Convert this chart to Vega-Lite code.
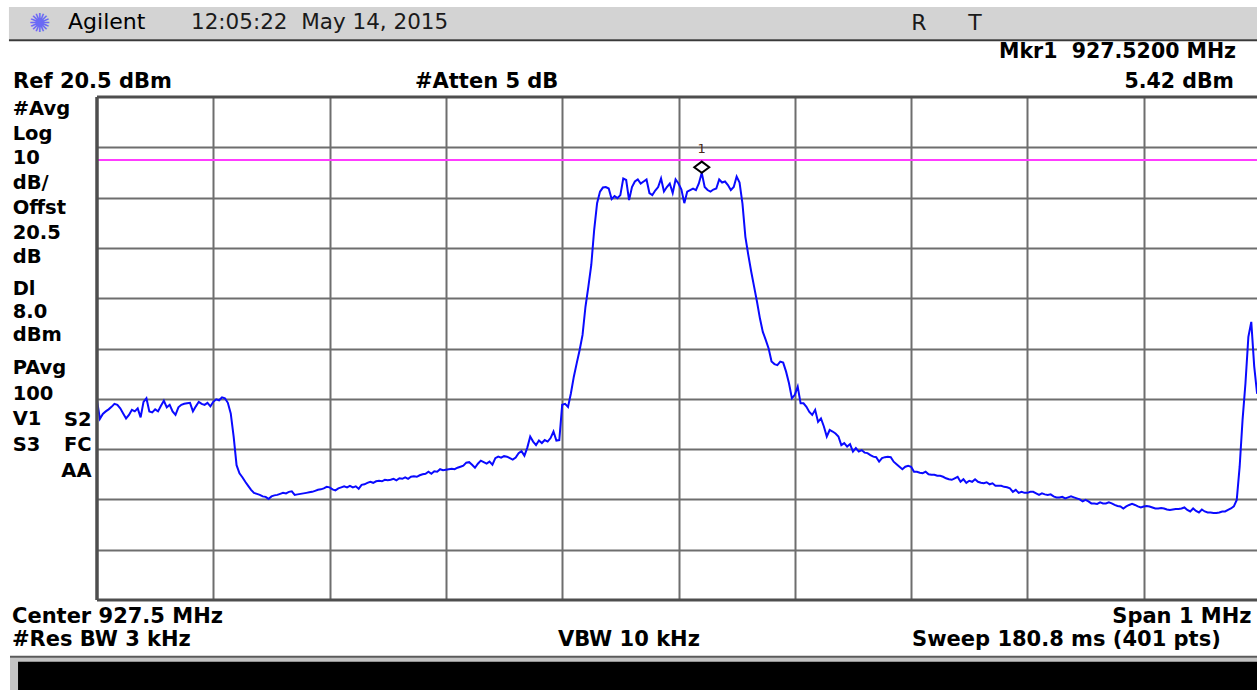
{
  "$schema": "https://vega.github.io/schema/vega-lite/v6.json",
  "width": 1160,
  "height": 503,
  "autosize": {"type": "none"},
  "padding": {"left": 97, "top": 97, "right": 0, "bottom": 90},
  "background": "#ffffff",
  "config": {"view": {"stroke": null}},
  "data": {"values": [{}]},
  "datasets": {
    "marker": [{"name": "Mkr1", "f": 927.52, "dbm": 5.42}],
    "trace": [
      {"f":927.0,"dbm":-39.8},{"f":927.0025,"dbm":-43.5},{"f":927.005,"dbm":-42.5},{"f":927.0075,"dbm":-42.0},
      {"f":927.01,"dbm":-41.6},{"f":927.0125,"dbm":-41.1},{"f":927.015,"dbm":-40.5},{"f":927.0175,"dbm":-40.7},
      {"f":927.02,"dbm":-41.4},{"f":927.0225,"dbm":-42.4},{"f":927.025,"dbm":-43.4},{"f":927.0275,"dbm":-42.7},
      {"f":927.03,"dbm":-41.7},{"f":927.0325,"dbm":-42.0},{"f":927.035,"dbm":-41.4},{"f":927.0375,"dbm":-43.2},
      {"f":927.04,"dbm":-40.1},{"f":927.0425,"dbm":-39.4},{"f":927.045,"dbm":-42.0},{"f":927.0475,"dbm":-42.2},
      {"f":927.05,"dbm":-41.6},{"f":927.0525,"dbm":-42.0},{"f":927.055,"dbm":-40.9},{"f":927.0575,"dbm":-39.9},
      {"f":927.06,"dbm":-41.2},{"f":927.0625,"dbm":-40.7},{"f":927.065,"dbm":-42.0},{"f":927.0675,"dbm":-42.7},
      {"f":927.07,"dbm":-41.2},{"f":927.0725,"dbm":-40.7},{"f":927.075,"dbm":-40.5},{"f":927.0775,"dbm":-40.4},
      {"f":927.08,"dbm":-40.3},{"f":927.0825,"dbm":-42.0},{"f":927.085,"dbm":-41.0},{"f":927.0875,"dbm":-40.1},
      {"f":927.09,"dbm":-40.5},{"f":927.0925,"dbm":-40.7},{"f":927.095,"dbm":-40.3},{"f":927.0975,"dbm":-41.0},
      {"f":927.1,"dbm":-40.1},{"f":927.1025,"dbm":-39.6},{"f":927.105,"dbm":-39.8},{"f":927.1075,"dbm":-39.2},
      {"f":927.11,"dbm":-39.4},{"f":927.1125,"dbm":-40.3},{"f":927.115,"dbm":-42.4},{"f":927.1175,"dbm":-47.0},
      {"f":927.12,"dbm":-52.7},{"f":927.1225,"dbm":-54.3},{"f":927.125,"dbm":-55.1},{"f":927.1275,"dbm":-56.0},
      {"f":927.13,"dbm":-56.8},{"f":927.1325,"dbm":-57.6},{"f":927.135,"dbm":-58.2},{"f":927.1375,"dbm":-58.4},
      {"f":927.14,"dbm":-58.6},{"f":927.1425,"dbm":-58.9},{"f":927.145,"dbm":-59.0},{"f":927.1475,"dbm":-59.4},
      {"f":927.15,"dbm":-58.9},{"f":927.1525,"dbm":-58.7},{"f":927.155,"dbm":-58.6},{"f":927.1575,"dbm":-58.4},
      {"f":927.16,"dbm":-58.2},{"f":927.1625,"dbm":-58.3},{"f":927.165,"dbm":-58.0},{"f":927.1675,"dbm":-57.9},
      {"f":927.17,"dbm":-58.6},{"f":927.1725,"dbm":-58.5},{"f":927.175,"dbm":-58.4},{"f":927.1775,"dbm":-58.3},
      {"f":927.18,"dbm":-58.2},{"f":927.1825,"dbm":-58.1},{"f":927.185,"dbm":-58.0},{"f":927.1875,"dbm":-57.8},
      {"f":927.19,"dbm":-57.6},{"f":927.1925,"dbm":-57.5},{"f":927.195,"dbm":-57.3},{"f":927.1975,"dbm":-57.0},
      {"f":927.2,"dbm":-57.1},{"f":927.2025,"dbm":-57.5},{"f":927.205,"dbm":-57.7},{"f":927.2075,"dbm":-57.3},
      {"f":927.21,"dbm":-57.1},{"f":927.2125,"dbm":-56.9},{"f":927.215,"dbm":-57.1},{"f":927.2175,"dbm":-56.8},
      {"f":927.22,"dbm":-57.1},{"f":927.2225,"dbm":-56.9},{"f":927.225,"dbm":-57.4},{"f":927.2275,"dbm":-56.6},
      {"f":927.23,"dbm":-56.5},{"f":927.2325,"dbm":-56.2},{"f":927.235,"dbm":-56.0},{"f":927.2375,"dbm":-56.2},
      {"f":927.24,"dbm":-55.9},{"f":927.2425,"dbm":-55.8},{"f":927.245,"dbm":-55.9},{"f":927.2475,"dbm":-55.6},
      {"f":927.25,"dbm":-55.7},{"f":927.2525,"dbm":-55.6},{"f":927.255,"dbm":-55.4},{"f":927.2575,"dbm":-55.7},
      {"f":927.26,"dbm":-55.3},{"f":927.2625,"dbm":-55.4},{"f":927.265,"dbm":-55.1},{"f":927.2675,"dbm":-55.4},
      {"f":927.27,"dbm":-55.0},{"f":927.2725,"dbm":-54.9},{"f":927.275,"dbm":-55.0},{"f":927.2775,"dbm":-54.7},
      {"f":927.28,"dbm":-54.5},{"f":927.2825,"dbm":-54.4},{"f":927.285,"dbm":-54.0},{"f":927.2875,"dbm":-54.4},
      {"f":927.29,"dbm":-53.9},{"f":927.2925,"dbm":-54.0},{"f":927.295,"dbm":-53.5},{"f":927.2975,"dbm":-53.7},
      {"f":927.3,"dbm":-53.6},{"f":927.3025,"dbm":-53.5},{"f":927.305,"dbm":-53.4},{"f":927.3075,"dbm":-53.5},
      {"f":927.31,"dbm":-53.2},{"f":927.3125,"dbm":-53.0},{"f":927.315,"dbm":-52.8},{"f":927.3175,"dbm":-52.2},
      {"f":927.32,"dbm":-52.1},{"f":927.3225,"dbm":-52.6},{"f":927.325,"dbm":-53.2},{"f":927.3275,"dbm":-52.4},
      {"f":927.33,"dbm":-51.8},{"f":927.3325,"dbm":-52.1},{"f":927.335,"dbm":-52.4},{"f":927.3375,"dbm":-52.0},
      {"f":927.34,"dbm":-52.6},{"f":927.3425,"dbm":-51.3},{"f":927.345,"dbm":-51.0},{"f":927.3475,"dbm":-51.2},
      {"f":927.35,"dbm":-50.9},{"f":927.3525,"dbm":-51.0},{"f":927.355,"dbm":-51.3},{"f":927.3575,"dbm":-51.6},
      {"f":927.36,"dbm":-51.2},{"f":927.3625,"dbm":-50.3},{"f":927.365,"dbm":-49.9},{"f":927.3675,"dbm":-50.8},
      {"f":927.37,"dbm":-49.2},{"f":927.3725,"dbm":-47.0},{"f":927.375,"dbm":-48.0},{"f":927.3775,"dbm":-48.7},
      {"f":927.38,"dbm":-47.8},{"f":927.3825,"dbm":-48.3},{"f":927.385,"dbm":-47.7},{"f":927.3875,"dbm":-48.0},
      {"f":927.39,"dbm":-47.3},{"f":927.3925,"dbm":-46.0},{"f":927.395,"dbm":-47.8},{"f":927.3975,"dbm":-47.7},
      {"f":927.4,"dbm":-40.7},{"f":927.4025,"dbm":-40.5},{"f":927.405,"dbm":-41.1},{"f":927.4075,"dbm":-38.4},
      {"f":927.41,"dbm":-35.1},{"f":927.4125,"dbm":-32.4},{"f":927.415,"dbm":-29.8},{"f":927.4175,"dbm":-26.8},
      {"f":927.42,"dbm":-21.2},{"f":927.4225,"dbm":-17.2},{"f":927.425,"dbm":-12.9},{"f":927.4275,"dbm":-5.9},
      {"f":927.43,"dbm":-0.6},{"f":927.4325,"dbm":1.7},{"f":927.435,"dbm":2.5},{"f":927.4375,"dbm":2.6},
      {"f":927.44,"dbm":2.3},{"f":927.4425,"dbm":0.2},{"f":927.445,"dbm":0.8},{"f":927.4475,"dbm":0.4},
      {"f":927.45,"dbm":1.0},{"f":927.4525,"dbm":4.3},{"f":927.455,"dbm":4.0},{"f":927.4575,"dbm":0.0},
      {"f":927.46,"dbm":2.6},{"f":927.4625,"dbm":3.7},{"f":927.465,"dbm":4.1},{"f":927.4675,"dbm":3.3},
      {"f":927.47,"dbm":3.7},{"f":927.4725,"dbm":4.1},{"f":927.475,"dbm":1.4},{"f":927.4775,"dbm":1.0},
      {"f":927.48,"dbm":1.9},{"f":927.4825,"dbm":2.6},{"f":927.485,"dbm":4.3},{"f":927.4875,"dbm":1.7},
      {"f":927.49,"dbm":2.6},{"f":927.4925,"dbm":3.3},{"f":927.495,"dbm":1.4},{"f":927.4975,"dbm":4.1},
      {"f":927.5,"dbm":3.3},{"f":927.5025,"dbm":2.1},{"f":927.505,"dbm":-0.6},{"f":927.5075,"dbm":1.7},
      {"f":927.51,"dbm":2.0},{"f":927.5125,"dbm":2.3},{"f":927.515,"dbm":2.0},{"f":927.5175,"dbm":3.3},
      {"f":927.52,"dbm":5.42},{"f":927.5225,"dbm":2.6},{"f":927.525,"dbm":2.0},{"f":927.5275,"dbm":1.7},
      {"f":927.53,"dbm":2.1},{"f":927.5325,"dbm":2.3},{"f":927.535,"dbm":4.1},{"f":927.5375,"dbm":3.5},
      {"f":927.54,"dbm":3.7},{"f":927.5425,"dbm":3.0},{"f":927.545,"dbm":2.0},{"f":927.5475,"dbm":2.6},
      {"f":927.55,"dbm":4.7},{"f":927.5525,"dbm":3.5},{"f":927.555,"dbm":-0.7},{"f":927.5575,"dbm":-7.3},
      {"f":927.56,"dbm":-10.9},{"f":927.5625,"dbm":-14.2},{"f":927.565,"dbm":-17.2},{"f":927.5675,"dbm":-20.2},
      {"f":927.57,"dbm":-23.5},{"f":927.5725,"dbm":-26.2},{"f":927.575,"dbm":-27.8},{"f":927.5775,"dbm":-29.5},
      {"f":927.58,"dbm":-32.1},{"f":927.5825,"dbm":-32.6},{"f":927.585,"dbm":-32.8},{"f":927.5875,"dbm":-32.1},
      {"f":927.59,"dbm":-32.3},{"f":927.5925,"dbm":-34.1},{"f":927.595,"dbm":-36.4},{"f":927.5975,"dbm":-39.4},
      {"f":927.6,"dbm":-38.7},{"f":927.6025,"dbm":-37.1},{"f":927.605,"dbm":-40.4},{"f":927.6075,"dbm":-40.4},
      {"f":927.61,"dbm":-41.1},{"f":927.6125,"dbm":-42.1},{"f":927.615,"dbm":-42.7},{"f":927.6175,"dbm":-41.7},
      {"f":927.62,"dbm":-44.1},{"f":927.6225,"dbm":-43.4},{"f":927.625,"dbm":-45.0},{"f":927.6275,"dbm":-47.0},
      {"f":927.63,"dbm":-45.7},{"f":927.6325,"dbm":-46.0},{"f":927.635,"dbm":-46.4},{"f":927.6375,"dbm":-47.0},
      {"f":927.64,"dbm":-48.7},{"f":927.6425,"dbm":-48.3},{"f":927.645,"dbm":-49.0},{"f":927.6475,"dbm":-48.5},
      {"f":927.65,"dbm":-50.0},{"f":927.6525,"dbm":-49.3},{"f":927.655,"dbm":-50.0},{"f":927.6575,"dbm":-49.7},
      {"f":927.66,"dbm":-50.2},{"f":927.6625,"dbm":-50.3},{"f":927.665,"dbm":-50.7},{"f":927.6675,"dbm":-51.0},
      {"f":927.67,"dbm":-51.1},{"f":927.6725,"dbm":-52.0},{"f":927.675,"dbm":-51.3},{"f":927.6775,"dbm":-51.1},
      {"f":927.68,"dbm":-51.0},{"f":927.6825,"dbm":-51.1},{"f":927.685,"dbm":-52.0},{"f":927.6875,"dbm":-52.5},
      {"f":927.69,"dbm":-53.0},{"f":927.6925,"dbm":-53.5},{"f":927.695,"dbm":-53.0},{"f":927.6975,"dbm":-52.8},
      {"f":927.7,"dbm":-53.0},{"f":927.7025,"dbm":-54.0},{"f":927.705,"dbm":-54.0},{"f":927.7075,"dbm":-54.2},
      {"f":927.71,"dbm":-54.3},{"f":927.7125,"dbm":-54.0},{"f":927.715,"dbm":-54.5},{"f":927.7175,"dbm":-54.6},
      {"f":927.72,"dbm":-54.6},{"f":927.7225,"dbm":-54.8},{"f":927.725,"dbm":-54.8},{"f":927.7275,"dbm":-55.0},
      {"f":927.73,"dbm":-55.3},{"f":927.7325,"dbm":-55.5},{"f":927.735,"dbm":-55.6},{"f":927.7375,"dbm":-55.3},
      {"f":927.74,"dbm":-55.0},{"f":927.7425,"dbm":-56.0},{"f":927.745,"dbm":-55.5},{"f":927.7475,"dbm":-56.2},
      {"f":927.75,"dbm":-55.8},{"f":927.7525,"dbm":-56.0},{"f":927.755,"dbm":-55.5},{"f":927.7575,"dbm":-56.0},
      {"f":927.76,"dbm":-56.2},{"f":927.7625,"dbm":-56.3},{"f":927.765,"dbm":-56.1},{"f":927.7675,"dbm":-56.5},
      {"f":927.77,"dbm":-56.3},{"f":927.7725,"dbm":-56.8},{"f":927.775,"dbm":-56.8},{"f":927.7775,"dbm":-56.8},
      {"f":927.78,"dbm":-57.0},{"f":927.7825,"dbm":-57.1},{"f":927.785,"dbm":-57.3},{"f":927.7875,"dbm":-58.0},
      {"f":927.79,"dbm":-57.6},{"f":927.7925,"dbm":-58.2},{"f":927.795,"dbm":-58.0},{"f":927.7975,"dbm":-58.2},
      {"f":927.8,"dbm":-58.2},{"f":927.8025,"dbm":-58.0},{"f":927.805,"dbm":-58.0},{"f":927.8075,"dbm":-58.3},
      {"f":927.81,"dbm":-58.6},{"f":927.8125,"dbm":-58.3},{"f":927.815,"dbm":-58.5},{"f":927.8175,"dbm":-58.6},
      {"f":927.82,"dbm":-58.5},{"f":927.8225,"dbm":-58.9},{"f":927.825,"dbm":-59.1},{"f":927.8275,"dbm":-59.1},
      {"f":927.83,"dbm":-59.0},{"f":927.8325,"dbm":-59.3},{"f":927.835,"dbm":-59.1},{"f":927.8375,"dbm":-58.9},
      {"f":927.84,"dbm":-59.1},{"f":927.8425,"dbm":-59.3},{"f":927.845,"dbm":-59.5},{"f":927.8475,"dbm":-59.9},
      {"f":927.85,"dbm":-59.6},{"f":927.8525,"dbm":-59.9},{"f":927.855,"dbm":-60.3},{"f":927.8575,"dbm":-60.3},
      {"f":927.86,"dbm":-60.4},{"f":927.8625,"dbm":-60.1},{"f":927.865,"dbm":-60.3},{"f":927.8675,"dbm":-60.3},
      {"f":927.87,"dbm":-60.1},{"f":927.8725,"dbm":-60.3},{"f":927.875,"dbm":-60.6},{"f":927.8775,"dbm":-60.8},
      {"f":927.88,"dbm":-60.9},{"f":927.8825,"dbm":-61.3},{"f":927.885,"dbm":-60.9},{"f":927.8875,"dbm":-60.6},
      {"f":927.89,"dbm":-60.4},{"f":927.8925,"dbm":-60.6},{"f":927.895,"dbm":-60.9},{"f":927.8975,"dbm":-61.1},
      {"f":927.9,"dbm":-60.9},{"f":927.9025,"dbm":-60.8},{"f":927.905,"dbm":-60.9},{"f":927.9075,"dbm":-61.1},
      {"f":927.91,"dbm":-61.3},{"f":927.9125,"dbm":-61.3},{"f":927.915,"dbm":-61.2},{"f":927.9175,"dbm":-61.3},
      {"f":927.92,"dbm":-61.5},{"f":927.9225,"dbm":-61.6},{"f":927.925,"dbm":-61.5},{"f":927.9275,"dbm":-61.4},
      {"f":927.93,"dbm":-61.4},{"f":927.9325,"dbm":-61.3},{"f":927.935,"dbm":-61.1},{"f":927.9375,"dbm":-61.6},
      {"f":927.94,"dbm":-61.9},{"f":927.9425,"dbm":-61.3},{"f":927.945,"dbm":-61.8},{"f":927.9475,"dbm":-62.1},
      {"f":927.95,"dbm":-61.5},{"f":927.9525,"dbm":-61.9},{"f":927.955,"dbm":-62.1},{"f":927.9575,"dbm":-62.1},
      {"f":927.96,"dbm":-62.2},{"f":927.9625,"dbm":-62.2},{"f":927.965,"dbm":-62.1},{"f":927.9675,"dbm":-61.9},
      {"f":927.97,"dbm":-61.9},{"f":927.9725,"dbm":-61.6},{"f":927.975,"dbm":-61.3},{"f":927.9775,"dbm":-60.9},
      {"f":927.98,"dbm":-59.6},{"f":927.9825,"dbm":-53.0},{"f":927.985,"dbm":-43.7},{"f":927.9875,"dbm":-36.4},
      {"f":927.99,"dbm":-27.2},{"f":927.9925,"dbm":-24.2},{"f":927.995,"dbm":-33.0},{"f":927.9975,"dbm":-38.5},
      {"f":928.0,"dbm":-36.0}
    ]
  },
  "layer": [
    {
      "mark": {"type": "rect", "fill": "#d3d3d3"},
      "encoding": {"x": {"datum": 926.9243}, "x2": {"datum": 928.1}, "y": {"datum": 38.39}, "y2": {"datum": 31.93}}
    },
    {
      "mark": {"type": "rule", "stroke": "#3a3a3a", "strokeWidth": 2},
      "encoding": {"x": {"datum": 926.9243}, "x2": {"datum": 928.1}, "y": {"datum": 31.77}}
    },
    {
      "mark": {"type": "rect", "fill": "#c4c4c4"},
      "encoding": {"x": {"datum": 926.9252}, "x2": {"datum": 928.1}, "y": {"datum": -90.9}, "y2": {"datum": -100}}
    },
    {
      "mark": {"type": "rect", "fill": "#000000"},
      "encoding": {"x": {"datum": 926.9321}, "x2": {"datum": 928.1}, "y": {"datum": -91.8}, "y2": {"datum": -100}}
    },
    {
      "mark": {"type": "rule", "stroke": "#5a5a5a", "strokeWidth": 2},
      "encoding": {"x": {"datum": 926.9252}, "x2": {"datum": 928.1}, "y": {"datum": -90.77}}
    },
    {
      "mark": {"type": "text", "align": "center", "baseline": "middle", "font": "DejaVu Sans", "fontSize": 26, "fill": "#6a6af5"},
      "encoding": {"x": {"datum": 926.951}, "y": {"datum": 35.0}, "text": {"value": "✺"}}
    },
    {
      "mark": {"type": "text", "align": "left", "baseline": "alphabetic", "font": "DejaVu Sans", "fontSize": 22, "fill": "#000000"},
      "encoding": {"x": {"datum": 926.9751}, "y": {"datum": 33.92}, "text": {"value": "Agilent"}}
    },
    {
      "mark": {"type": "text", "align": "left", "baseline": "alphabetic", "font": "DejaVu Sans", "fontSize": 21.5, "fill": "#1a1a1a"},
      "encoding": {"x": {"datum": 927.0808}, "y": {"datum": 33.92}, "text": {"value": "12:05:22\u00a0 May 14, 2015"}}
    },
    {
      "mark": {"type": "text", "align": "center", "baseline": "alphabetic", "font": "DejaVu Sans", "fontSize": 22, "fill": "#1a1a1a"},
      "encoding": {"x": {"datum": 927.7068}, "y": {"datum": 33.8}, "text": {"value": "R"}}
    },
    {
      "mark": {"type": "text", "align": "center", "baseline": "alphabetic", "font": "DejaVu Sans", "fontSize": 22, "fill": "#1a1a1a"},
      "encoding": {"x": {"datum": 927.7549}, "y": {"datum": 33.8}, "text": {"value": "T"}}
    },
    {
      "data": {"name": "marker"},
      "transform": [{"calculate": "datum.name + '\u00a0 ' + format(datum.f, '.4f') + ' MHz'", "as": "mlabel"}],
      "mark": {"type": "text", "align": "right", "baseline": "alphabetic", "font": "DejaVu Sans", "fontWeight": "bold", "fontSize": 20.5, "fill": "#000000"},
      "encoding": {"x": {"datum": 927.9794}, "y": {"datum": 28.19}, "text": {"field": "mlabel"}}
    },
    {
      "data": {"name": "marker"},
      "transform": [{"calculate": "format(datum.dbm, '.2f') + ' dBm'", "as": "alabel"}],
      "mark": {"type": "text", "align": "right", "baseline": "alphabetic", "font": "DejaVu Sans", "fontWeight": "bold", "fontSize": 20.5, "fill": "#000000"},
      "encoding": {"x": {"datum": 927.9776}, "y": {"datum": 22.29}, "text": {"field": "alabel"}}
    },
    {
      "mark": {"type": "text", "align": "left", "baseline": "alphabetic", "font": "DejaVu Sans", "fontWeight": "bold", "fontSize": 21, "fill": "#000000"},
      "encoding": {"x": {"datum": 926.9278}, "y": {"datum": 22.29}, "text": {"value": "Ref 20.5 dBm"}}
    },
    {
      "mark": {"type": "text", "align": "left", "baseline": "alphabetic", "font": "DejaVu Sans", "fontWeight": "bold", "fontSize": 21, "fill": "#000000"},
      "encoding": {"x": {"datum": 927.2734}, "y": {"datum": 22.29}, "text": {"value": "#Atten 5 dB"}}
    },
    {
      "mark": {"type": "text", "align": "left", "baseline": "alphabetic", "font": "DejaVu Sans", "fontWeight": "bold", "fontSize": 19.5, "lineHeight": 24.7, "fill": "#000000"},
      "encoding": {"x": {"datum": 926.9275}, "y": {"datum": 16.92}, "text": {"value": ["#Avg", "Log", "10", "dB/", "Offst", "20.5", "dB"]}}
    },
    {
      "mark": {"type": "text", "align": "left", "baseline": "alphabetic", "font": "DejaVu Sans", "fontWeight": "bold", "fontSize": 19.5, "lineHeight": 23.2, "fill": "#000000"},
      "encoding": {"x": {"datum": 926.9275}, "y": {"datum": -18.86}, "text": {"value": ["Dl", "8.0", "dBm"]}}
    },
    {
      "mark": {"type": "text", "align": "left", "baseline": "alphabetic", "font": "DejaVu Sans", "fontWeight": "bold", "fontSize": 19.5, "lineHeight": 25.6, "fill": "#000000"},
      "encoding": {"x": {"datum": 926.9275}, "y": {"datum": -34.63}, "text": {"value": ["PAvg", "100", "V1", "S3"]}}
    },
    {
      "mark": {"type": "text", "align": "right", "baseline": "alphabetic", "font": "DejaVu Sans", "fontWeight": "bold", "fontSize": 19.5, "lineHeight": 25.5, "fill": "#000000"},
      "encoding": {"x": {"datum": 926.9953}, "y": {"datum": -44.85}, "text": {"value": ["S2", "FC", "AA"]}}
    },
    {
      "mark": {"type": "text", "align": "left", "baseline": "alphabetic", "font": "DejaVu Sans", "fontWeight": "bold", "fontSize": 21, "fill": "#000000"},
      "encoding": {"x": {"datum": 926.9269}, "y": {"datum": -84.07}, "text": {"value": "Center 927.5 MHz"}}
    },
    {
      "mark": {"type": "text", "align": "right", "baseline": "alphabetic", "font": "DejaVu Sans", "fontWeight": "bold", "fontSize": 21, "fill": "#000000"},
      "encoding": {"x": {"datum": 927.9927}, "y": {"datum": -84.07}, "text": {"value": "Span 1 MHz"}}
    },
    {
      "mark": {"type": "text", "align": "left", "baseline": "alphabetic", "font": "DejaVu Sans", "fontWeight": "bold", "fontSize": 21, "fill": "#000000"},
      "encoding": {"x": {"datum": 926.9269}, "y": {"datum": -88.64}, "text": {"value": "#Res BW 3 kHz"}}
    },
    {
      "mark": {"type": "text", "align": "left", "baseline": "alphabetic", "font": "DejaVu Sans", "fontWeight": "bold", "fontSize": 21, "fill": "#000000"},
      "encoding": {"x": {"datum": 927.3964}, "y": {"datum": -88.64}, "text": {"value": "VBW 10 kHz"}}
    },
    {
      "mark": {"type": "text", "align": "left", "baseline": "alphabetic", "font": "DejaVu Sans", "fontWeight": "bold", "fontSize": 21, "fill": "#000000"},
      "encoding": {"x": {"datum": 927.7008}, "y": {"datum": -88.64}, "text": {"value": "Sweep 180.8 ms (401 pts)"}}
    },
    {
      "data": {"name": "trace"},
      "mark": {"type": "line", "stroke": "#0a0aff", "strokeWidth": 2, "clip": true},
      "encoding": {
        "x": {
          "field": "f", "type": "quantitative",
          "scale": {"domain": [927, 927.99742], "nice": false, "zero": false},
          "axis": {"values": [927.1, 927.2, 927.3, 927.4, 927.5, 927.6, 927.7, 927.8, 927.9], "grid": true, "gridColor": "#6e6e6e", "gridWidth": 2, "gridOpacity": 1, "labels": false, "ticks": false, "domain": false, "title": null}
        },
        "y": {
          "field": "dbm", "type": "quantitative",
          "scale": {"domain": [-79.5, 20.5], "nice": false, "zero": false},
          "axis": {"values": [-69.5, -59.5, -49.5, -39.5, -29.5, -19.5, -9.5, 0.5, 10.5], "grid": true, "gridColor": "#6e6e6e", "gridWidth": 2, "gridOpacity": 1, "labels": false, "ticks": false, "domain": false, "title": null}
        }
      }
    },
    {
      "mark": {"type": "rule", "stroke": "#ff3cff", "strokeWidth": 2},
      "encoding": {"y": {"datum": 8.0}}
    },
    {
      "mark": {"type": "rule", "stroke": "#4e4e4e", "strokeWidth": 3.5},
      "encoding": {"x": {"datum": 927}}
    },
    {
      "mark": {"type": "rule", "stroke": "#4e4e4e", "strokeWidth": 3},
      "encoding": {"y": {"datum": 20.5}}
    },
    {
      "mark": {"type": "rule", "stroke": "#4e4e4e", "strokeWidth": 3},
      "encoding": {"y": {"datum": -79.5}}
    },
    {
      "data": {"name": "marker"},
      "mark": {"type": "point", "shape": "M-1,-0.75L0,-1.5L1,-0.75L0,0Z", "size": 225, "filled": true, "fill": "#ffffff", "stroke": "#000000", "strokeWidth": 2, "opacity": 1},
      "encoding": {"x": {"field": "f", "type": "quantitative"}, "y": {"field": "dbm", "type": "quantitative"}}
    },
    {
      "data": {"name": "marker"},
      "mark": {"type": "text", "align": "center", "baseline": "alphabetic", "dy": -20, "font": "DejaVu Sans", "fontSize": 13, "fill": "#4a2a1a"},
      "encoding": {"x": {"field": "f", "type": "quantitative"}, "y": {"field": "dbm", "type": "quantitative"}, "text": {"value": "1"}}
    }
  ]
}
